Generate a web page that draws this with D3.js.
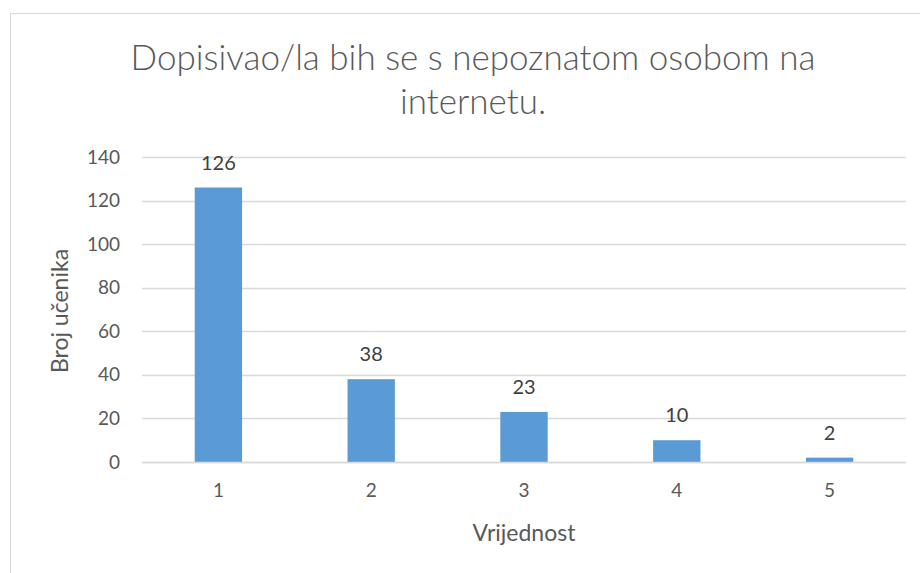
<!DOCTYPE html>
<html>
<head>
<meta charset="utf-8">
<script src="https://cdn.jsdelivr.net/npm/d3@7"></script>
<style>
  body { margin: 0; background: #fff; }
  text { font-family: Lato, "Open Sans", sans-serif; }
</style>
</head>
<body>
<div id="chart"></div>
<script>
// Data
const categories = ["1", "2", "3", "4", "5"];
const values = [126, 38, 23, 10, 2];
const yTicks = [0, 20, 40, 60, 80, 100, 120, 140];
const titleLines = ["Dopisivao/la bih se s nepoznatom osobom na", "internetu."];
const xTitle = "Vrijednost";
const yTitle = "Broj učenika";

const width = 920;
const height = 573;
const margin = { left: 142, right: 14, top: 157, bottom: 111 };

const svg = d3.select("#chart").append("svg")
    .attr("width", width)
    .attr("height", height);

// chart frame
svg.append("rect")
    .attr("x", 10.5).attr("y", 13.5)
    .attr("width", 940).attr("height", 600)
    .attr("fill", "#fff")
    .attr("stroke", "#d9d9d9");

const x = d3.scaleBand()
    .domain(categories)
    .range([margin.left, width - margin.right])
    .paddingInner(0.69)
    .paddingOuter(0.345);

const y = d3.scaleLinear()
    .domain([0, 140])
    .range([height - margin.bottom, margin.top]);

// gridlines
svg.append("g")
    .selectAll("line")
    .data(yTicks)
    .enter()
    .append("line")
    .attr("x1", margin.left)
    .attr("x2", width - margin.right)
    .attr("y1", d => Math.round(y(d)) + 0.5)
    .attr("y2", d => Math.round(y(d)) + 0.5)
    .attr("stroke", "#d9d9d9")
    .attr("stroke-width", 1.3);

// y axis labels
const yAxis = svg.append("g")
    .attr("transform", `translate(${margin.left}, 0)`)
    .call(d3.axisLeft(y).tickValues(yTicks).tickSize(0).tickPadding(22));
yAxis.select(".domain").remove();
yAxis.selectAll("text")
    .attr("fill", "#595959")
    .style("font-size", "19px");

// bars
svg.append("g")
    .selectAll("rect")
    .data(values)
    .enter()
    .append("rect")
    .attr("x", (d, i) => x(categories[i]))
    .attr("y", d => y(d))
    .attr("width", x.bandwidth())
    .attr("height", d => y(0) - y(d))
    .attr("fill", "#5b9bd5");

// axis line
svg.append("line")
    .attr("x1", margin.left)
    .attr("x2", width - margin.right)
    .attr("y1", Math.round(y(0)) + 0.5)
    .attr("y2", Math.round(y(0)) + 0.5)
    .attr("stroke", "#d9d9d9")
    .attr("stroke-width", 1.3);

// x axis labels
const xAxis = svg.append("g")
    .attr("transform", `translate(0, ${y(0)})`)
    .call(d3.axisBottom(x).tickSize(0).tickPadding(22));
xAxis.select(".domain").remove();
xAxis.selectAll("text")
    .attr("fill", "#595959")
    .style("font-size", "19px");

// data labels
svg.append("g")
    .selectAll("text")
    .data(values)
    .enter()
    .append("text")
    .attr("x", (d, i) => x(categories[i]) + x.bandwidth() / 2)
    .attr("y", d => y(d) - 18)
    .attr("text-anchor", "middle")
    .attr("fill", "#404040")
    .style("font-size", "20px")
    .text(d => d);

// title
svg.append("g")
    .selectAll("text")
    .data(titleLines)
    .enter()
    .append("text")
    .attr("x", 473)
    .attr("y", (d, i) => 70 + i * 44)
    .attr("text-anchor", "middle")
    .attr("fill", "#595959")
    .style("font-size", "35px")
    .style("font-weight", 300)
    .text(d => d);

// axis titles
svg.append("text")
    .attr("x", x.range()[0] + (x.range()[1] - x.range()[0]) / 2)
    .attr("y", 541)
    .attr("text-anchor", "middle")
    .attr("fill", "#595959")
    .style("font-size", "23px")
    .text(xTitle);

svg.append("text")
    .attr("transform", "translate(68, 311) rotate(-90)")
    .attr("text-anchor", "middle")
    .attr("fill", "#595959")
    .style("font-size", "23px")
    .text(yTitle);
</script>
</body>
</html>
